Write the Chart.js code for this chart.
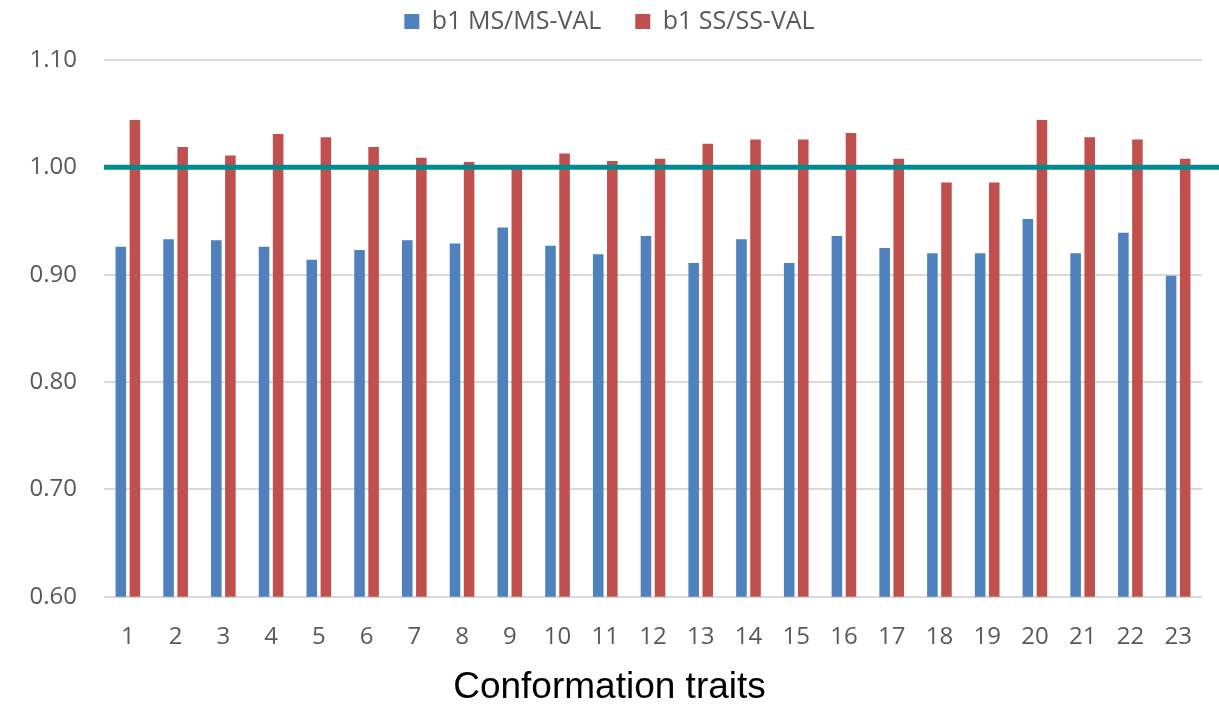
<!DOCTYPE html>
<html>
<head>
<meta charset="utf-8">
<script src="https://cdn.jsdelivr.net/npm/chart.js@4"></script>
<style>
  body { margin: 0; background: #fff; }
  #wrap { width: 1219px; height: 705px; }
</style>
</head>
<body>
<div id="wrap"><canvas id="myChart" width="1219" height="705"></canvas></div>
<script>
const traits = ["1","2","3","4","5","6","7","8","9","10","11","12","13","14","15","16","17","18","19","20","21","22","23"];
const msVal = [0.926, 0.933, 0.932, 0.926, 0.914, 0.923, 0.932, 0.929, 0.944, 0.927, 0.919, 0.936, 0.911, 0.933, 0.911, 0.936, 0.925, 0.920, 0.920, 0.952, 0.920, 0.939, 0.899];
const ssVal = [1.044, 1.019, 1.011, 1.031, 1.028, 1.019, 1.009, 1.005, 1.000, 1.013, 1.006, 1.008, 1.022, 1.026, 1.026, 1.032, 1.008, 0.986, 0.986, 1.044, 1.028, 1.026, 1.008];
const yTicks = [0.60, 0.70, 0.80, 0.90, 1.00, 1.10];
const refLine = 1.00;

const tickFont = { family: "'Open Sans', sans-serif", size: 24 };
const grey = '#595959';

// teal reference line at 1.00, runs past the plot to the edge
const refLinePlugin = {
  id: 'refLine',
  afterDatasetsDraw(chart) {
    const y = chart.scales.y.getPixelForValue(refLine);
    const ctx = chart.ctx;
    ctx.save();
    ctx.strokeStyle = '#008B91';
    ctx.lineWidth = 5;
    ctx.beginPath();
    ctx.moveTo(chart.chartArea.left, y);
    ctx.lineTo(chart.width, y);
    ctx.stroke();
    ctx.restore();
  }
};

// legend sits higher than its padding would put it
const legendHeight = {
  id: 'legendHeight',
  beforeInit(chart) {
    const fit = chart.legend.fit;
    chart.legend.fit = function () {
      fit.bind(chart.legend)();
      this.height = 85;
    };
  }
};

const data = {
  labels: traits,
  datasets: [
    { label: 'b1 MS/MS-VAL', data: msVal, backgroundColor: '#4F81BD' },
    { label: 'b1 SS/SS-VAL', data: ssVal, backgroundColor: '#C0504D' }
  ]
};

const config = {
  type: 'bar',
  data: data,
  options: {
    responsive: false,
    animation: false,
    layout: { padding: { left: 0, right: 0, top: -25, bottom: -5 } },
    datasets: { bar: { categoryPercentage: 0.59, barPercentage: 0.75 } },
    plugins: {
      legend: {
        position: 'top',
        labels: { font: { family: "'Open Sans', sans-serif", size: 25 }, color: grey, boxWidth: 15, boxHeight: 15, padding: 34 }
      },
      title: {
        display: true,
        position: 'bottom',
        text: 'Conformation traits',
        color: '#000',
        font: { family: "'Liberation Sans', Arial, sans-serif", size: 37, weight: 'normal' },
        padding: { top: -4, bottom: 0 }
      },
      tooltip: { enabled: false }
    },
    scales: {
      x: {
        grid: { display: false },
        border: { display: false },
        ticks: { font: tickFont, color: grey, padding: 18, maxRotation: 0, autoSkip: false }
      },
      y: {
        min: 0.60,
        max: 1.10,
        afterBuildTicks: (scale) => { scale.ticks = yTicks.map(v => ({ value: v })); },
        afterFit: (scale) => { scale.width = 104; },
        grid: { color: '#D9D9D9', lineWidth: 2, drawTicks: false },
        border: { display: false },
        ticks: { font: tickFont, color: grey, padding: 27, callback: (v) => v.toFixed(2) }
      },
      // empty strip on the right, keeps the plot off the edge
      y2: {
        position: 'right',
        min: 0.60,
        max: 1.10,
        afterFit: (scale) => { scale.width = 17; },
        grid: { display: false },
        border: { display: false },
        ticks: { display: false }
      }
    }
  },
  plugins: [refLinePlugin, legendHeight]
};

const myChart = new Chart(document.getElementById('myChart'), config);
</script>
</body>
</html>
